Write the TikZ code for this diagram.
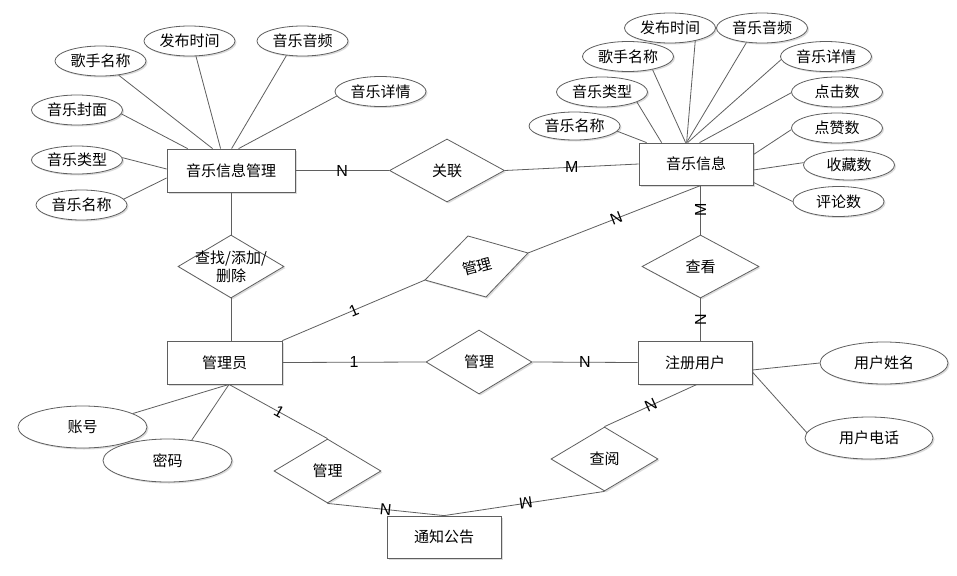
\documentclass[tikz,border=0pt]{standalone}
\usepackage{fontspec}
\newfontfamily\cjk{Noto Sans CJK SC}
\newfontfamily\lat{Liberation Sans}
\usetikzlibrary{shapes.geometric,shadows,calc}
\definecolor{ln}{RGB}{95,95,95}
\begin{document}
\begin{tikzpicture}[x=1pt,y=-1pt,
  every node/.style={font=\cjk\fontsize{15}{18}\selectfont, text=black},
  shd/.style={drop shadow={shadow xshift=1.5pt,shadow yshift=-1.5pt,fill=black!14,opacity=1}},
  ent/.style={rectangle, draw=ln, fill=white, line width=0.8pt, inner sep=0pt, shd},
  attr/.style={ellipse, draw=ln, fill=white, line width=0.8pt, inner sep=0pt, minimum width=91pt, minimum height=30pt, shd},
  battr/.style={attr, minimum width=129pt, minimum height=42pt},
  rel/.style={diamond, draw=ln, fill=white, line width=0.8pt, inner sep=0pt, shd},
  conn/.style={draw=ln, line width=0.8pt},
  lbl/.style={inner sep=0pt, font=\lat\fontsize{16}{18}\selectfont}
]
\fill[white] (0,0) rectangle (957,575);
\useasboundingbox (0,0) rectangle (957,575);

% ---------- entities ----------
\node[ent, minimum width=128pt, minimum height=43pt] (m1) at (231,170.5) {音乐信息管理};
\node[ent, minimum width=114pt, minimum height=42pt] (m2) at (696,164) {音乐信息};
\node[ent, minimum width=115pt, minimum height=43pt] (e1) at (224.5,362.5) {管理员};
\node[ent, minimum width=114pt, minimum height=43pt] (e2) at (695,362.5) {注册用户};
\node[ent, minimum width=114pt, minimum height=42pt] (e3) at (444,537) {通知公告};

% ---------- relationships ----------
\node[rel, minimum width=115pt, minimum height=63pt] (r1) at (447,170.5) {关联};
\node[rel, minimum width=106pt, minimum height=63pt] (r2) at (231,266.5) {};
\node[align=center, inner sep=0pt] (r2t) at (r2.center) {查找/添加/\\删除};
\coordinate (g3l) at (425,280);
\coordinate (g3t) at (468,236);
\coordinate (g3r) at (528,253);
\coordinate (g3b) at (486,297);
\draw[conn, fill=white, shd] (g3l) -- (g3t) -- (g3r) -- (g3b) -- cycle;
\node[rotate=15, inner sep=0pt] (g3) at (477,266.5) {管理};
\node[rel, minimum width=106pt, minimum height=64pt] (r4) at (479,362) {管理};
\node[rel, minimum width=117pt, minimum height=63pt] (r5) at (700.5,266.5) {查看};
\node[rel, minimum width=107pt, minimum height=64pt] (r6) at (604.5,459) {查阅};
\node[rel, minimum width=107pt, minimum height=64pt] (r7) at (327.5,471) {管理};

% ---------- attributes of 音乐信息管理 ----------
\node[attr] (lgs) at (100.5,61) {歌手名称};
\node[attr] (lfb) at (189.5,41) {发布时间};
\node[attr] (lyp) at (302.5,41) {音乐音频};
\node[attr] (lxq) at (380.5,91.5) {音乐详情};
\node[attr] (lfm) at (77,110) {音乐封面};
\node[attr, minimum height=28pt] (llx) at (77,160) {音乐类型};
\node[attr] (lmc) at (81.5,205) {音乐名称};

% ---------- attributes of 音乐信息 ----------
\node[attr] (rfb) at (670,28) {发布时间};
\node[attr] (ryp) at (762,28) {音乐音频};
\node[attr] (rgs) at (628,56.5) {歌手名称};
\node[attr] (rxq) at (826,56.5) {音乐详情};
\node[attr] (rlx) at (602,92) {音乐类型};
\node[attr] (rdj) at (837,92) {点击数};
\node[attr, minimum height=28pt] (rmc) at (574.5,126) {音乐名称};
\node[attr] (rdz) at (837,128) {点赞数};
\node[attr] (rsc) at (849,165) {收藏数};
\node[attr] (rpl) at (838.5,201.5) {评论数};

% ---------- other attributes ----------
\node[battr] (zh) at (82.5,427) {账号};
\node[battr, minimum height=43pt] (mm) at (167.5,460.5) {密码};
\node[battr, minimum width=128pt] (xm) at (884,363) {用户姓名};
\node[battr, minimum width=128pt] (dh) at (869,438) {用户电话};

% ---------- attribute links ----------
\draw[conn] (lfm.355) -- ([xshift=21pt]m1.north west);
\draw[conn] (lgs.322) -- ([xshift=46pt]m1.north west);
\draw[conn] (lfb.293) -- ([xshift=54pt]m1.north west);
\draw[conn] (lyp.222) -- ([xshift=65pt]m1.north west);
\draw[conn] (lxq.186) -- ([xshift=72pt]m1.north west);
\draw[conn] (llx.3) -- ([yshift=1.5pt]m1.west);
\draw[conn] (lmc.8) -- ([yshift=-7.5pt]m1.west);

\draw[conn] (rmc.353) -- ([xshift=8pt]m2.north west);
\draw[conn] (rlx.344) -- ([xshift=23pt]m2.north west);
\draw[conn] (rgs.332) -- ([xshift=47pt]m2.north west);
\draw[conn] (rfb.333) -- ([xshift=48pt]m2.north west);
\draw[conn] (ryp.223) -- ([xshift=48pt]m2.north west);
\draw[conn] (rxq.184) -- ([xshift=49pt]m2.north west);
\draw[conn] (rdj.181) -- ([xshift=61pt]m2.north west);
\draw[conn] (rdz.182) -- ([yshift=-12pt]m2.north east);
\draw[conn] (rsc.177) -- ([yshift=-6pt]m2.east);
\draw[conn] (rpl.180) -- ([yshift=3pt]m2.south east);

\draw[conn] (zh.15) -- ([xshift=4.5pt]e1.south);
\draw[conn] (mm.40) -- ([xshift=4.5pt]e1.south);
\draw[conn] (xm.west) -- ([yshift=-7.5pt]e2.east);
\draw[conn] (dh.175) -- ([yshift=-9.5pt]e2.east);

% ---------- relationship links ----------
\draw[conn] (m1.east) -- (r1.west) node[lbl, pos=0.5] {N};
\draw[conn] (r1.east) -- (m2.west) node[lbl, pos=0.5] {M};
\draw[conn] (m1.south) -- (r2.north);
\draw[conn] (r2.south) -- (r2.south |- e1.north);
\draw[conn] (e1.north east) -- (g3l) node[lbl, pos=0.5, sloped] {1};
\draw[conn] (g3r) -- ([xshift=5pt]m2.south) node[lbl, pos=0.51, sloped] {N};
\draw[conn] (e1.east) -- (r4.west) node[lbl, pos=0.5] {1};
\draw[conn] (r4.east) -- (e2.west) node[lbl, pos=0.5] {N};
\draw[conn] (r5.north) -- (r5.north |- m2.south) node[lbl, pos=0.5, rotate=90] {M};
\draw[conn] (r5.south) -- (r5.south |- e2.north) node[lbl, pos=0.5, rotate=90] {N};
\draw[conn] ([xshift=2pt]e2.south) -- (r6.north) node[lbl, pos=0.5, sloped] {N};
\draw[conn] (r6.south) -- (e3.north) node[lbl, pos=0.49, sloped, allow upside down] {M};
\draw[conn] (r7.south) -- (e3.north) node[lbl, pos=0.5, sloped] {N};
\draw[conn] ([xshift=4.5pt]e1.south) -- (r7.north) node[lbl, pos=0.51, sloped] {1};
\end{tikzpicture}
\end{document}
